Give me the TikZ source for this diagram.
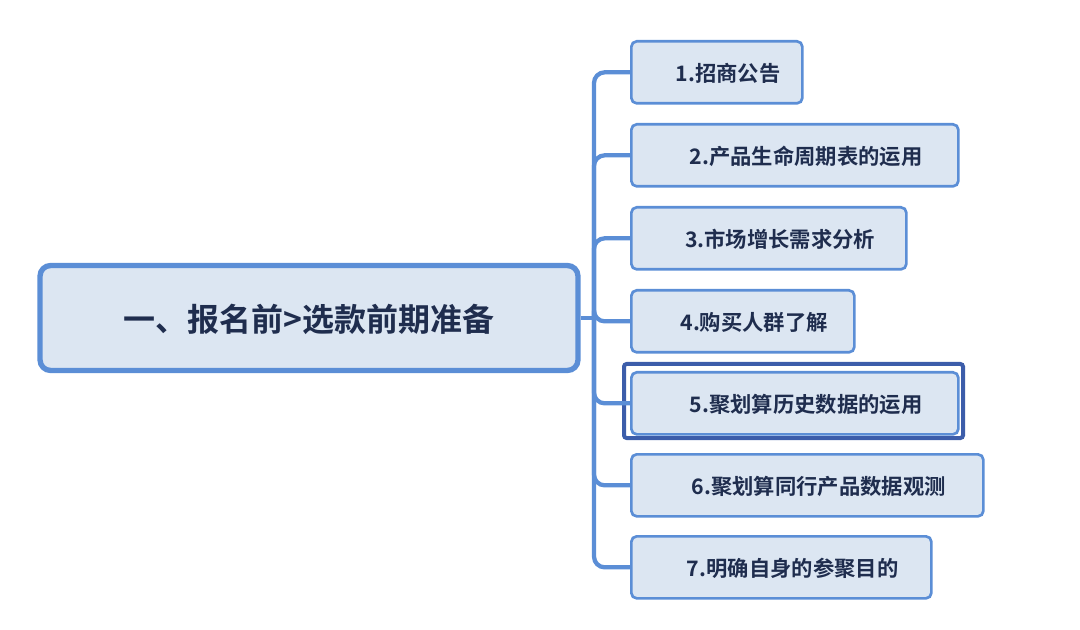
\documentclass[tikz,border=0pt]{standalone}
\usepackage{fontspec}
\setmainfont{Noto Sans CJK SC}[BoldFont={* Bold}]
\begin{document}
\begin{tikzpicture}[x=0.75pt,y=-0.75pt,
  box/.style={draw=boxline,fill=boxfill,line width=2pt,rounded corners=4pt,anchor=north west,inner sep=0pt,text=txt,font=\bfseries\fontsize{16}{18}\selectfont,align=left,text depth=0pt},
  link/.style={draw=boxline,line width=3.2pt,rounded corners=8pt}]
\definecolor{boxline}{HTML}{5B8ED6}
\definecolor{boxfill}{HTML}{DCE6F2}
\definecolor{txt}{HTML}{1F2D4E}
\definecolor{sel}{HTML}{3C5DAA}
\useasboundingbox (0,0) rectangle (1080,630);
\node[box,line width=4pt,rounded corners=8pt,minimum width=538pt*0.75,minimum height=105pt*0.75,align=center,anchor=center,font=\bfseries\fontsize{24}{28}\selectfont] (m) at (309,318) {一、报名前>选款前期准备};
\foreach \i/\w/\y/\t in {1/171/40/1.招商公告,2/327/123/2.产品生命周期表的运用,3/275/206/3.市场增长需求分析,4/223/289/4.购买人群了解,5/327/371/5.聚划算历史数据的运用,6/352/453/6.聚划算同行产品数据观测,7/300/535/7.明确自身的参聚目的}{
  \node[box,minimum width=\w*0.75pt,minimum height=46.5pt] (c\i) at (630,\y) {\hspace*{17pt}\t};
}
\draw[sel,line width=3pt,rounded corners=2pt] (624,364) rectangle (963,438);
\coordinate (j) at (594,318);
\draw[link] (m.east) -- (j);
\foreach \i in {1,...,7}{ \draw[link] (j) |- (c\i.west); }
\end{tikzpicture}
\end{document}
